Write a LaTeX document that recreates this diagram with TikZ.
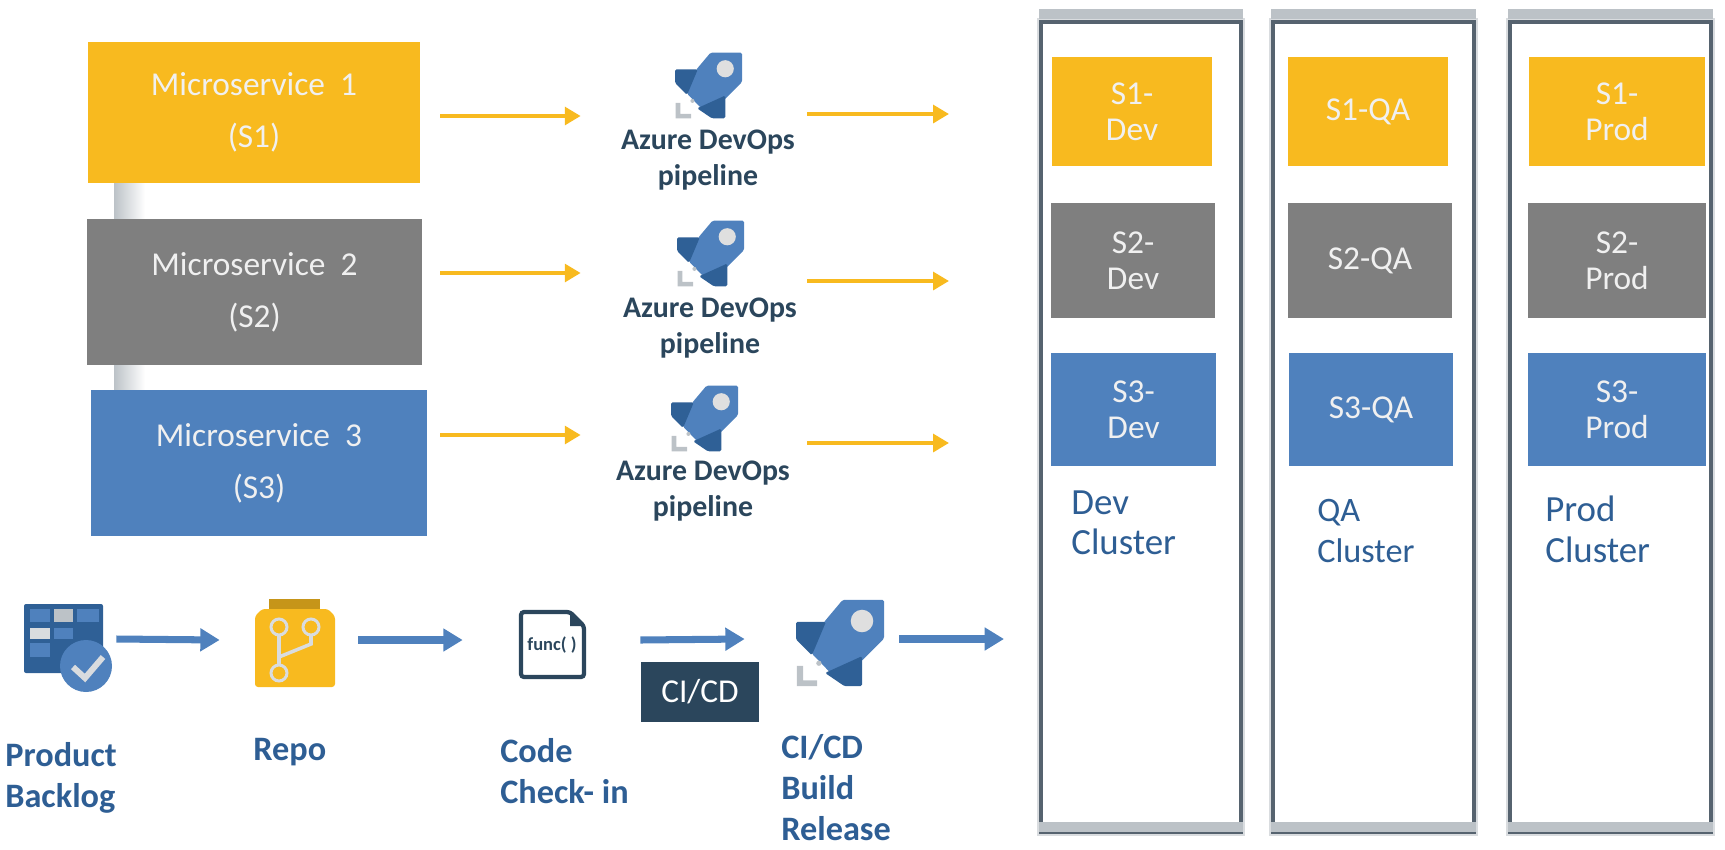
\documentclass[tikz,border=0pt]{standalone}
\usepackage{fontspec}
\setmainfont{Carlito}
\usetikzlibrary{arrows.meta}
\definecolor{amberc}{HTML}{F8BA1F}
\definecolor{greyc}{HTML}{7F7F7F}
\definecolor{bluec}{HTML}{4F81BD}
\definecolor{deepc}{HTML}{2F6096}
\definecolor{navyc}{HTML}{2B465C}
\definecolor{inkc}{HTML}{2E5E94}
\definecolor{framec}{HTML}{56636F}
\definecolor{haloc}{HTML}{D9DCDF}
\definecolor{bandc}{HTML}{BCC2C7}
\tikzset{
  svcbox/.style={inner sep=0pt, text=white!94!black, align=center, font=\fontsize{19}{29.5}\selectfont},
  stagebox/.style={inner sep=0pt, text=white!94!black, align=center, font=\fontsize{19}{20.4}\selectfont},
  panelbox/.style={draw=framec, line width=2pt, fill=white, preaction={draw=haloc, line width=5pt}},
  stagelabel/.style={inner sep=0pt, anchor=north west, align=left, text=inkc, font=\fontsize{21}{23}\selectfont},
  steplabel/.style={inner sep=0pt, anchor=north west, align=left, text=inkc, font=\bfseries\fontsize{19.5}{23.4}\selectfont},
  pipelabel/.style={inner sep=0pt, align=center, text=navyc, font=\bfseries\fontsize{17}{20.5}\selectfont},
  feed/.style={draw=amberc, line width=2.8pt, -{Triangle[length=9pt,width=10pt]}},
  flow/.style={draw=bluec, line width=4pt, -{Triangle[length=11pt,width=12.5pt]}},
  spot/.style={inner sep=0pt, minimum height=0.4cm},
  rocket/.pic={
    \fill[bluec, rounded corners=0.03cm] (53,-1) -- (100,-1) -- (100,-45) -- (75,-70) -- (45,-90) -- (18,-62) -- (32,-26) -- cycle;
    \fill[deepc, rounded corners=0.03cm] (0,-26) -- (34,-26) -- (18,-64) -- (0,-46) -- cycle;
    \fill[deepc, rounded corners=0.03cm] (75,-65) -- (75,-99) -- (55,-99) -- (33,-84) -- cycle;
    \fill[white!75!gray] (75,-25) circle (12.8);
    \fill[bandc] (26,-73) circle (3);
    \fill[bandc] (1,-76) -- (8,-76) -- (8,-92.5) -- (24,-92.5) -- (24,-99) -- (1,-99) -- cycle;
  }
}
\begin{document}
\begin{tikzpicture}[x=0.02cm, y=0.02cm]
\useasboundingbox (0,0) rectangle (1725,-849);
% joints between the service boxes
\shade[left color=bandc, right color=white] (114,-180) rectangle (145,-222);
\shade[left color=bandc, right color=white] (114,-362) rectangle (145,-392);
% services
\node[svcbox, fill=amberc, minimum width=6.64cm, minimum height=2.82cm] (ms1) at (254,-112.5) {Microservice\ \ 1\\(S1)};
\node[svcbox, fill=greyc, minimum width=6.7cm, minimum height=2.92cm] (ms2) at (254.5,-292) {Microservice\ \ 2\\(S2)};
\node[svcbox, fill=bluec, minimum width=6.72cm, minimum height=2.94cm] (ms3) at (259,-463) {Microservice\ \ 3\\(S3)};
% pipelines
\node[spot, minimum width=4.52cm] (pipe1) at (694,-116) {};
\node[spot, minimum width=4.52cm] (pipe2) at (694,-273) {};
\node[spot, minimum width=4.52cm] (pipe3) at (694,-435) {};
\coordinate (out1) at (949,-114);
\coordinate (out2) at (949,-281);
\coordinate (out3) at (949,-443);
\pic[scale=0.67] at (675,-52) {rocket};
\pic[scale=0.67] at (677,-220) {rocket};
\pic[scale=0.67] at (671,-385) {rocket};
\node[pipelabel] (pipetext1) at (708,-160) {Azure DevOps\\pipeline};
\node[pipelabel] (pipetext2) at (710,-328) {Azure DevOps\\pipeline};
\node[pipelabel] (pipetext3) at (703,-491) {Azure DevOps\\pipeline};
\draw[feed, shorten <=11.3pt] (ms1.east |- pipe1) -- (pipe1.west);
\draw[feed, shorten <=10.2pt] (ms2.east |- pipe2) -- (pipe2.west);
\draw[feed, shorten <=7.4pt] (ms3.east |- pipe3) -- (pipe3.west);
\draw[feed] (pipe1.east |- out1) -- (out1);
\draw[feed] (pipe2.east |- out2) -- (out2);
\draw[feed] (pipe3.east |- out3) -- (out3);
% clusters
\node[panelbox, minimum width=4cm, minimum height=16.2cm] (devpanel) at (1141,-427) {};
\node[panelbox, minimum width=4.02cm, minimum height=16.2cm] (qapanel) at (1373.5,-427) {};
\node[panelbox, minimum width=4.02cm, minimum height=16.2cm] (prodpanel) at (1610.5,-427) {};
\fill[bandc] ([yshift=0.03cm]devpanel.north west) rectangle ([yshift=0.22cm]devpanel.north east);
\fill[bandc] ([yshift=0.03cm]qapanel.north west) rectangle ([yshift=0.22cm]qapanel.north east);
\fill[bandc] ([yshift=0.03cm]prodpanel.north west) rectangle ([yshift=0.22cm]prodpanel.north east);
\fill[bandc] ([yshift=0.04cm]devpanel.south west) rectangle ([yshift=0.24cm]devpanel.south east);
\fill[bandc] ([yshift=0.04cm]qapanel.south west) rectangle ([yshift=0.24cm]qapanel.south east);
\fill[bandc] ([yshift=0.04cm]prodpanel.south west) rectangle ([yshift=0.24cm]prodpanel.south east);
% stages
\node[stagebox, fill=amberc, minimum width=3.2cm, minimum height=2.18cm] (s1dev) at (1132,-111.5) {S1-\\Dev};
\node[stagebox, fill=greyc, minimum width=3.28cm, minimum height=2.3cm] (s2dev) at (1133,-260.5) {S2-\\Dev};
\node[stagebox, fill=bluec, minimum width=3.3cm, minimum height=2.26cm] (s3dev) at (1133.5,-409.5) {S3-\\Dev};
\node[stagebox, fill=amberc, minimum width=3.2cm, minimum height=2.18cm] (s1qa) at (1368,-111.5) {S1-QA};
\node[stagebox, fill=greyc, minimum width=3.28cm, minimum height=2.3cm] (s2qa) at (1370,-260.5) {S2-QA};
\node[stagebox, fill=bluec, minimum width=3.28cm, minimum height=2.26cm] (s3qa) at (1371,-409.5) {S3-QA};
\node[stagebox, fill=amberc, minimum width=3.52cm, minimum height=2.18cm] (s1prod) at (1617,-111.5) {S1-\\Prod};
\node[stagebox, fill=greyc, minimum width=3.56cm, minimum height=2.3cm] (s2prod) at (1617,-260.5) {S2-\\Prod};
\node[stagebox, fill=bluec, minimum width=3.56cm, minimum height=2.26cm] (s3prod) at (1617,-409.5) {S3-\\Prod};
\node[stagelabel] (devtext) at (1071,-490) {Dev\\Cluster};
\node[stagelabel, font=\fontsize{19.5}{23}\selectfont] (qatext) at (1317,-499) {QA\\Cluster};
\node[stagelabel] (prodtext) at (1545,-496) {Prod\\Cluster};
% backlog
\node[spot, minimum width=1.84cm] (backlog) at (70,-639) {};
\fill[deepc, rounded corners=0.04cm] (24,-604) rectangle (103,-673);
\fill[bluec] (30,-609) rectangle (50,-622);
\fill[bandc] (54,-609) rectangle (73,-622);
\fill[bluec] (77,-609) rectangle (99,-622);
\fill[haloc] (30,-628) rectangle (50,-639);
\fill[bluec] (54,-628) rectangle (73,-639);
\fill[bluec] (30,-643) rectangle (50,-657);
\fill[bluec] (86,-666) circle (26);
\draw[haloc, line width=3.4pt] (73,-667) -- (85,-678) -- (103,-657);
% repo
\node[spot, minimum width=2.76cm] (repo) at (289,-640) {};
\fill[amberc!80!black] (269,-599) rectangle (320,-612);
\fill[amberc, rounded corners=0.06cm] (255,-616) -- (262,-609) -- (328,-609) -- (335,-616) -- (335,-687) -- (255,-687) -- cycle;
\draw[haloc, line width=1.7pt] (279,-627) circle (8);
\draw[haloc, line width=1.7pt] (311,-627) circle (8);
\draw[haloc, line width=1.7pt] (279,-673) circle (8);
\draw[haloc, line width=2pt] (279,-635) -- (279,-665);
\draw[haloc, line width=2pt] (279,-657) -- (311,-644) -- (311,-635);
% code file
\node[spot, minimum width=3.54cm] (func) at (551.5,-640) {};
\draw[navyc, line width=2.4pt, rounded corners=0.06cm] (521,-612) -- (570,-612) -- (584,-626) -- (584,-677) -- (521,-677) -- cycle;
\fill[navyc] (570,-612) -- (584,-626) -- (570,-626) -- cycle;
\node[inner sep=0pt, text=navyc, font=\bfseries\fontsize{10.5}{12}\selectfont] (functext) at (552,-645) {func( )};
% build
\node[spot, minimum width=3.08cm] (build) at (822,-639) {};
\coordinate (deploy) at (1004,-639);
\pic[scale=0.88] at (796,-599) {rocket};
\node[inner sep=0pt, fill=navyc, text=white, minimum width=2.36cm, minimum height=1.2cm, font=\fontsize{19}{22}\selectfont] (cicd) at (700,-692) {CI/CD};
\draw[flow] (backlog.east) -- (repo.west);
\draw[flow] (repo.east) -- (func.west);
\draw[flow] (func.east) -- (build.west);
\draw[flow] (build.east) -- (deploy);
\node[steplabel] (backlogtext) at (5,-742) {Product\\Backlog};
\node[steplabel] (repotext) at (253,-738) {Repo};
\node[steplabel] (codetext) at (500,-738) {Code\\Check- in};
\node[steplabel] (buildtext) at (781,-734) {CI/CD\\Build\\Release};
\end{tikzpicture}
\end{document}
